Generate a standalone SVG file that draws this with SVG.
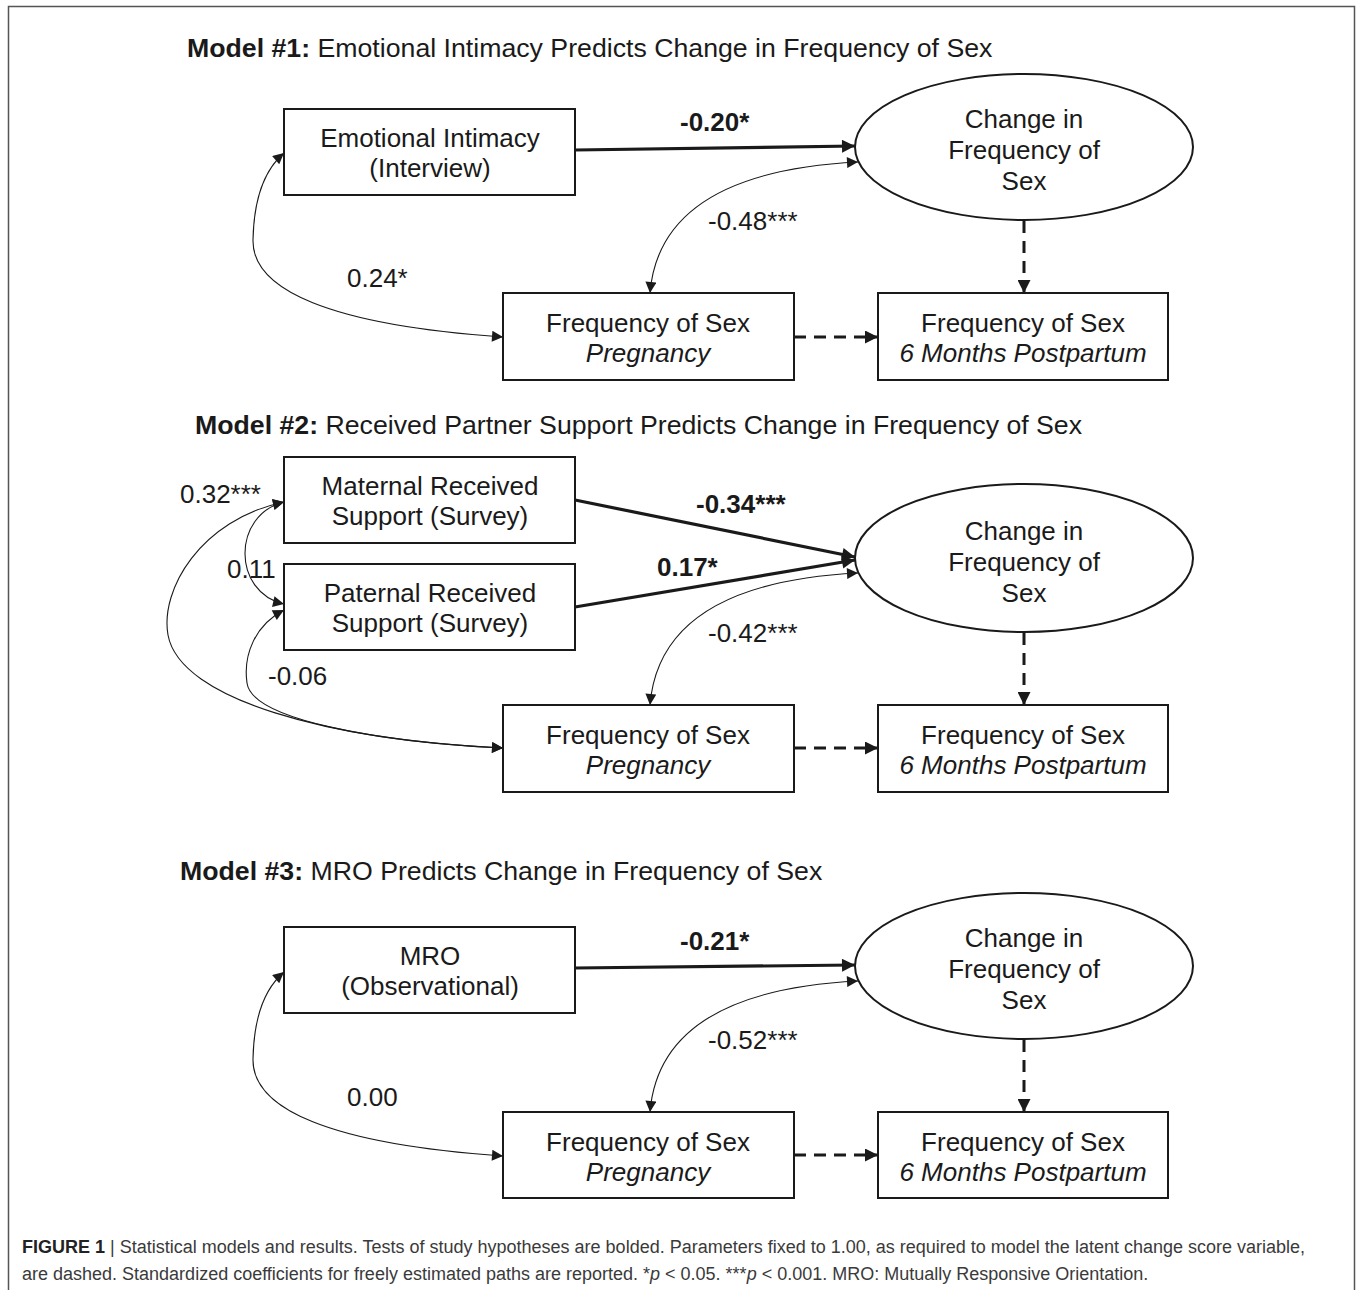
<svg xmlns="http://www.w3.org/2000/svg" width="1357" height="1290" viewBox="0 0 1357 1290">
<style>
text{font-family:"Liberation Sans",Arial,sans-serif;fill:#1a1a1a;}
.t{font-size:26.7px;}
.n{font-size:26px;text-anchor:middle;}
.l{font-size:26px;}
.b{font-weight:bold;}
.i{font-style:italic;}
.box{fill:#fff;stroke:#1a1a1a;stroke-width:2;}
.ell{fill:#fff;stroke:#1a1a1a;stroke-width:2;}
.thick{fill:none;stroke:#1a1a1a;stroke-width:3.2;marker-end:url(#ahB);}
.dash{fill:none;stroke:#1a1a1a;stroke-width:3;stroke-dasharray:12 8;marker-end:url(#ahB);}
.curve{fill:none;stroke:#1a1a1a;stroke-width:1.1;marker-start:url(#ahS);marker-end:url(#ahS);}
.cap{font-size:18px;fill:#3a3a3a;}
</style>
<defs>
<marker id="ahB" viewBox="0 0 10 10" refX="10" refY="5" markerWidth="16" markerHeight="13" markerUnits="userSpaceOnUse" orient="auto-start-reverse"><path d="M0,0 L10,5 L0,10 z" fill="#1a1a1a" stroke="none"/></marker>
<marker id="ahS" viewBox="0 0 10 10" refX="10" refY="5" markerWidth="14" markerHeight="11" markerUnits="userSpaceOnUse" orient="auto-start-reverse"><path d="M0,0 L10,5 L0,10 z" fill="#1a1a1a" stroke="none"/></marker>
</defs>
<rect x="0" y="0" width="1357" height="1290" fill="#fff"/>
<path d="M8.5,1290 L8.5,6.5 L1354.5,6.5 L1354.5,1290" fill="none" stroke="#555" stroke-width="1.5"/>

<!-- Titles -->
<text class="t" x="187" y="57"><tspan class="b">Model #1:</tspan> Emotional Intimacy Predicts Change in Frequency of Sex</text>
<text class="t" x="195" y="434"><tspan class="b">Model #2:</tspan> Received Partner Support Predicts Change in Frequency of Sex</text>
<text class="t" x="180" y="880"><tspan class="b">Model #3:</tspan> MRO Predicts Change in Frequency of Sex</text>

<!-- Connectors -->
<g id="connectors">
  <!-- Model 1 -->
  <path class="thick" d="M575,150 L855,146"/>
  <path class="curve" d="M858,162 Q660,172 650,293"/>
  <path class="dash" d="M1024,221 L1024,293"/>
  <path class="dash" d="M794,337 L878,337"/>
  <path class="curve" d="M503,337 C330,325 252,290 253,240 C254,190 270,165 284,153"/>
  <!-- Model 2 -->
  <path class="thick" d="M575,500 L855,557"/>
  <path class="thick" d="M575,607 L855,560"/>
  <path class="curve" d="M858,573 Q660,583 650,705"/>
  <path class="dash" d="M1024,633 L1024,705"/>
  <path class="dash" d="M794,748 L878,748"/>
  <path class="curve" d="M284,502 C232,515 232,592 284,604"/>
  <path class="curve" d="M284,610 C255,625 243,655 247,683 C252,720 380,742 503,748"/>
  <path class="curve" d="M284,502 C200,520 160,590 168,635 C180,700 330,740 503,748"/>
  <!-- Model 3 -->
  <path class="thick" d="M575,968 L855,965"/>
  <path class="curve" d="M858,981 Q660,991 650,1112"/>
  <path class="dash" d="M1024,1040 L1024,1112"/>
  <path class="dash" d="M794,1155 L878,1155"/>
  <path class="curve" d="M503,1156 C330,1144 252,1109 253,1059 C254,1009 270,984 284,972"/>

  <!-- Labels -->
  <text class="l b" x="680" y="131">-0.20*</text>
  <text class="l" x="708" y="230">-0.48***</text>
  <text class="l" x="347" y="287">0.24*</text>
  <text class="l b" x="696" y="513">-0.34***</text>
  <text class="l b" x="657" y="576">0.17*</text>
  <text class="l" x="708" y="642">-0.42***</text>
  <text class="l" x="180" y="503">0.32***</text>
  <text class="l" x="227" y="578">0.11</text>
  <text class="l" x="268" y="685">-0.06</text>
  <text class="l b" x="680" y="950">-0.21*</text>
  <text class="l" x="708" y="1049">-0.52***</text>
  <text class="l" x="347" y="1106">0.00</text>
</g>

<!-- Model 1 nodes -->
<g id="m1-emotional">
  <rect class="box" x="284" y="109" width="291" height="86"/>
  <text class="n" x="430" y="147">Emotional Intimacy</text>
  <text class="n" x="430" y="177">(Interview)</text>
</g>
<g id="m1-change">
  <ellipse class="ell" cx="1024" cy="147" rx="169" ry="73"/>
  <text class="n" x="1024" y="128">Change in</text>
  <text class="n" x="1024" y="159">Frequency of</text>
  <text class="n" x="1024" y="190">Sex</text>
</g>
<g id="m1-preg">
  <rect class="box" x="503" y="293" width="291" height="87"/>
  <text class="n" x="648" y="332">Frequency of Sex</text>
  <text class="n i" x="648" y="362">Pregnancy</text>
</g>
<g id="m1-post">
  <rect class="box" x="878" y="293" width="290" height="87"/>
  <text class="n" x="1023" y="332">Frequency of Sex</text>
  <text class="n i" x="1023" y="362">6 Months Postpartum</text>
</g>

<!-- Model 2 nodes -->
<g id="m2-maternal">
  <rect class="box" x="284" y="457" width="291" height="86"/>
  <text class="n" x="430" y="495">Maternal Received</text>
  <text class="n" x="430" y="525">Support (Survey)</text>
</g>
<g id="m2-paternal">
  <rect class="box" x="284" y="564" width="291" height="86"/>
  <text class="n" x="430" y="602">Paternal Received</text>
  <text class="n" x="430" y="632">Support (Survey)</text>
</g>
<g id="m2-change">
  <ellipse class="ell" cx="1024" cy="558" rx="169" ry="74"/>
  <text class="n" x="1024" y="540">Change in</text>
  <text class="n" x="1024" y="571">Frequency of</text>
  <text class="n" x="1024" y="602">Sex</text>
</g>
<g id="m2-preg">
  <rect class="box" x="503" y="705" width="291" height="87"/>
  <text class="n" x="648" y="744">Frequency of Sex</text>
  <text class="n i" x="648" y="774">Pregnancy</text>
</g>
<g id="m2-post">
  <rect class="box" x="878" y="705" width="290" height="87"/>
  <text class="n" x="1023" y="744">Frequency of Sex</text>
  <text class="n i" x="1023" y="774">6 Months Postpartum</text>
</g>

<!-- Model 3 nodes -->
<g id="m3-mro">
  <rect class="box" x="284" y="927" width="291" height="86"/>
  <text class="n" x="430" y="965">MRO</text>
  <text class="n" x="430" y="995">(Observational)</text>
</g>
<g id="m3-change">
  <ellipse class="ell" cx="1024" cy="966" rx="169" ry="73"/>
  <text class="n" x="1024" y="947">Change in</text>
  <text class="n" x="1024" y="978">Frequency of</text>
  <text class="n" x="1024" y="1009">Sex</text>
</g>
<g id="m3-preg">
  <rect class="box" x="503" y="1112" width="291" height="86"/>
  <text class="n" x="648" y="1151">Frequency of Sex</text>
  <text class="n i" x="648" y="1181">Pregnancy</text>
</g>
<g id="m3-post">
  <rect class="box" x="878" y="1112" width="290" height="86"/>
  <text class="n" x="1023" y="1151">Frequency of Sex</text>
  <text class="n i" x="1023" y="1181">6 Months Postpartum</text>
</g>

<!-- Caption -->
<text class="cap" x="22" y="1253"><tspan class="b" style="fill:#222">FIGURE 1</tspan> | Statistical models and results. Tests of study hypotheses are bolded. Parameters fixed to 1.00, as required to model the latent change score variable,</text>
<text class="cap" x="22" y="1280">are dashed. Standardized coefficients for freely estimated paths are reported. *<tspan class="i">p</tspan> &lt; 0.05. ***<tspan class="i">p</tspan> &lt; 0.001. MRO: Mutually Responsive Orientation.</text>
</svg>
